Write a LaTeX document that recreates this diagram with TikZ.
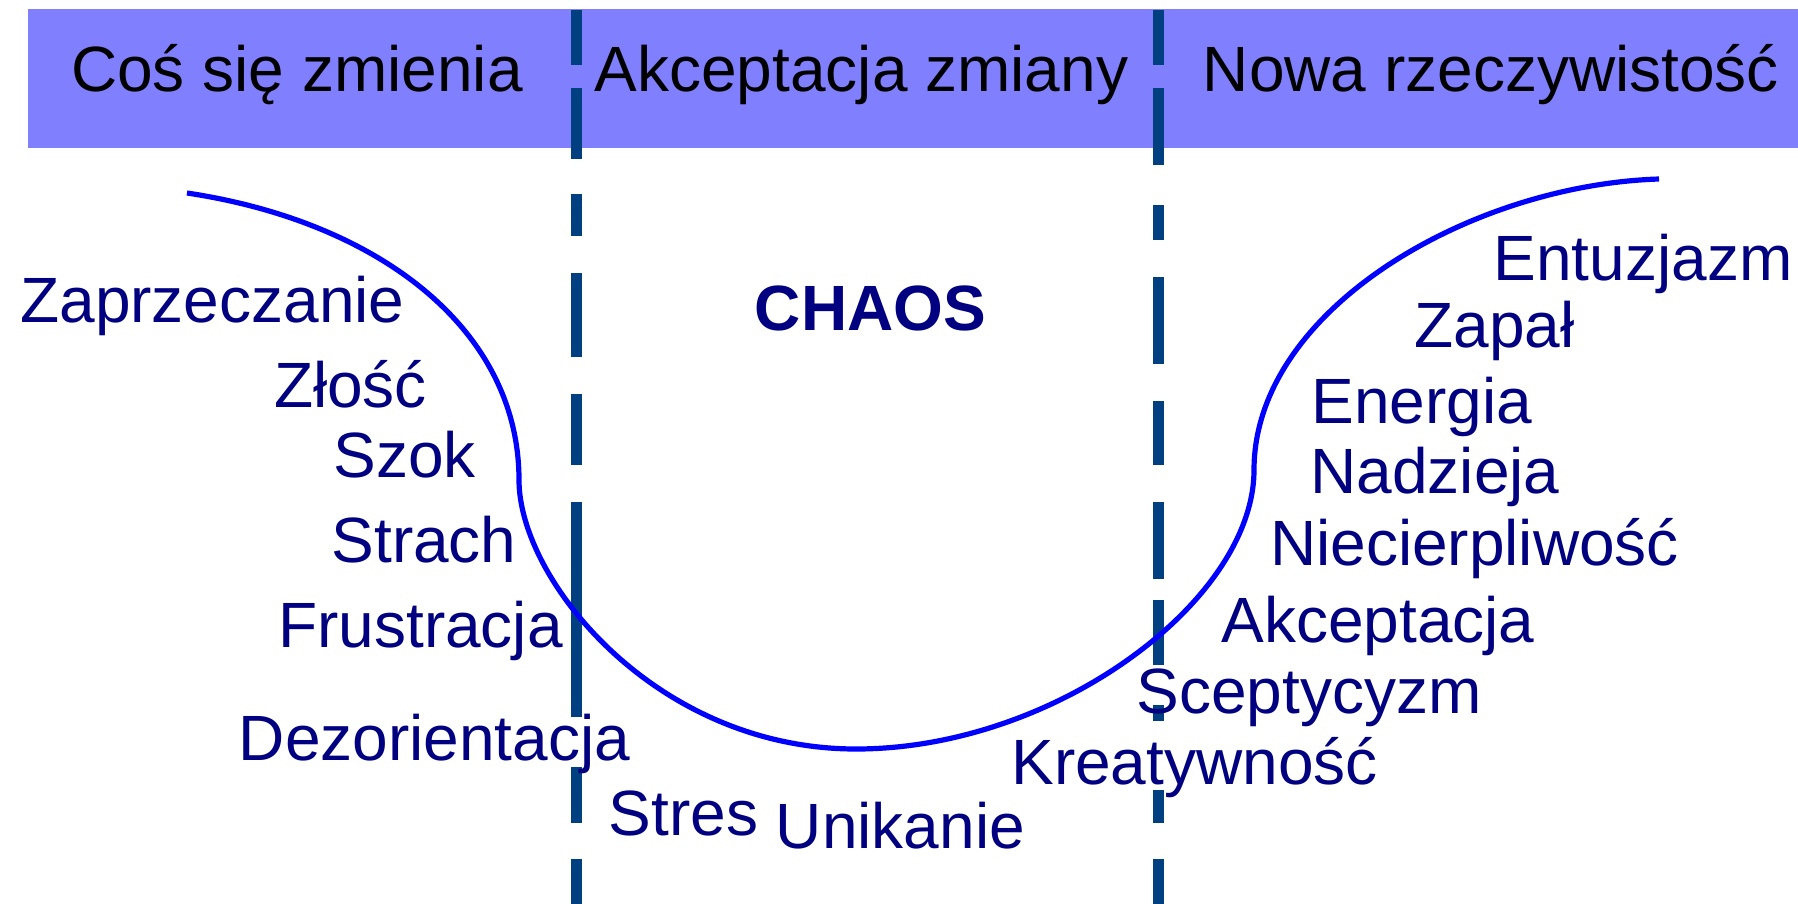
\documentclass[tikz,border=0pt]{standalone}
\usepackage{fontspec}
\setmainfont{Liberation Sans}
\definecolor{bandfill}{RGB}{128,128,255}
\definecolor{divider}{RGB}{0,64,128}
\definecolor{labelnavy}{RGB}{0,0,128}
\definecolor{curveblue}{RGB}{0,0,255}

\begin{document}
\begin{tikzpicture}[x=0.5pt,y=-0.5pt,
  phase/.style={anchor=base, inner sep=0pt, text=black, font=\fontsize{32}{38}\selectfont},
  feeling/.style={anchor=base, inner sep=0pt, text=labelnavy, font=\fontsize{32}{38}\selectfont},
  title/.style={feeling, font=\fontsize{32}{38}\selectfont\bfseries},
  divline/.style={draw=divider, line width=5.5pt},
  wave/.style={draw=curveblue, line width=2.6pt}]
\useasboundingbox (0,0) rectangle (1798,904);

% header band with the three phases
\fill[bandfill] (28,9) rectangle (1798,148);

% dashed dividers between the phases
\foreach \a/\b in {10/65, 88/159, 194/236, 273/357, 394/465, 502/717, 767/823, 859/904}
  \draw[divline] (576.5,\a) -- (576.5,\b);
\foreach \a/\b in {10/65, 88/165, 205/240, 277/364, 401/465, 502/579, 600/665, 705/721, 790/823, 859/904}
  \draw[divline] (1158,\a) -- (1158,\b);

% the change curve
\draw[wave] (187,193) .. controls (380,222) and (519,330) .. (519,480)
  .. controls (519,580) and (656,749) .. (856,749)
  .. controls (1056,749) and (1254,600) .. (1254,470)
  .. controls (1254,310) and (1470,185) .. (1659,179);

% phase titles
\node[phase] (p1) at (297,91) {Coś się zmienia};
\node[phase] (p2) at (861.5,91) {Akceptacja zmiany};
\node[phase] (p3) at (1491,91) {Nowa rzeczywistość};

\node[title] (chaos) at (870.5,330) {CHAOS};

% feelings along the curve
\node[feeling] (zaprzeczanie) at (212.5,322) {Zaprzeczanie};
\node[feeling] (zlosc) at (350.5,407) {Złość};
\node[feeling] (szok) at (404.5,477) {Szok};
\node[feeling] (strach) at (424,562) {Strach};
\node[feeling] (frustracja) at (420.5,647) {Frustracja};
\node[feeling] (dezorientacja) at (434.5,760) {Dezorientacja};
\node[feeling] (stres) at (683.5,835) {Stres};
\node[feeling] (unikanie) at (900.5,848) {Unikanie};
\node[feeling] (kreatywnosc) at (1194.5,784) {Kreatywność};
\node[feeling] (sceptycyzm) at (1309,713) {Sceptycyzm};
\node[feeling] (akceptacja) at (1378,642) {Akceptacja};
\node[feeling] (niecierpliwosc) at (1474.5,565) {Niecierpliwość};
\node[feeling] (nadzieja) at (1435,493) {Nadzieja};
\node[feeling] (energia) at (1422,423) {Energia};
\node[feeling] (zapal) at (1494.5,347) {Zapał};
\node[feeling] (entuzjazm) at (1643,280) {Entuzjazm};
\end{tikzpicture}
\end{document}
